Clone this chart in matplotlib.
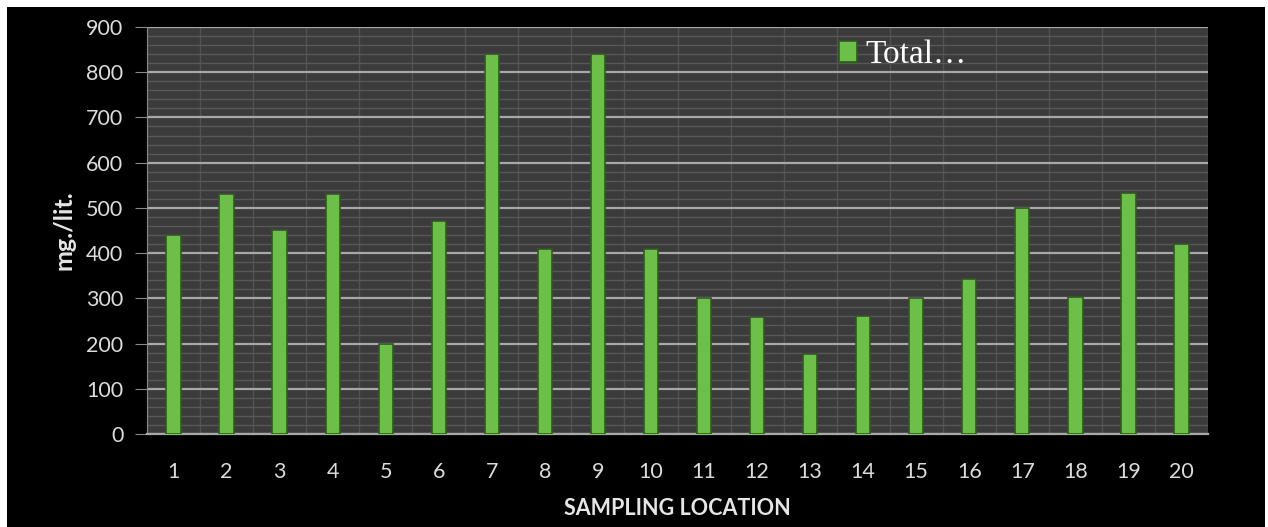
import numpy as np
import matplotlib
matplotlib.use('Agg')
import matplotlib.pyplot as plt
from matplotlib.patches import Rectangle
from matplotlib.ticker import MultipleLocator

locations = list(range(1, 21))
total = [440, 530, 450, 530, 200, 470, 840, 410, 840, 410,
         300, 258, 178, 262, 300, 342, 500, 302, 532, 420]
series_name = 'Total\u2026'
y_ticks = list(range(0, 901, 100))

W, H = 1268, 527
fig = plt.figure(figsize=(W / 100, H / 100), dpi=100, facecolor='white')

# black panel, leaving a thin white edge on the left, top and right
fig.patches.append(Rectangle((7 / W, 0), (1265 - 7) / W, 520 / H,
                             transform=fig.transFigure, facecolor='black',
                             edgecolor='none', zorder=-10))

ax = fig.add_axes([147 / W, 93 / H, (1208 - 147) / W, (434 - 27) / H])
ax.set_facecolor('#3b3b3b')

bars = ax.bar(locations, total, width=0.27, color='#6cc04a',
              edgecolor='#2f5a1c', linewidth=1.2, zorder=3, label=series_name)

ax.set_xlim(0.5, 20.5)
ax.set_ylim(0, 900)
ax.set_yticks(y_ticks)
ax.set_xticks(locations)
ax.yaxis.set_minor_locator(MultipleLocator(20))
ax.xaxis.set_minor_locator(MultipleLocator(0.5))

ax.grid(which='major', axis='y', color='#a8a8a8', linewidth=1.6, zorder=1)
ax.grid(which='minor', axis='y', color='#585858', linewidth=1.0, zorder=0)
ax.grid(which='minor', axis='x', color='#525252', linewidth=1.0, zorder=0)

for side in ['top', 'right']:
    ax.spines[side].set_visible(False)
ax.spines['left'].set_color('#8a8a8a')
ax.spines['bottom'].set_color('#a8a8a8')
ax.spines['bottom'].set_linewidth(1.6)

ax.tick_params(axis='y', which='major', length=9, color='#8a8a8a', pad=8)
ax.tick_params(axis='x', which='major', length=0, pad=20)
ax.tick_params(which='minor', length=0)
for lab in ax.get_yticklabels() + ax.get_xticklabels():
    lab.set_fontfamily('Lato')
    lab.set_fontsize(15.5)
    lab.set_color('#dcdcdc')

ax.set_xlabel('SAMPLING LOCATION', family='Lato', weight='bold', size=15.5,
              color='#e6e6e6', labelpad=12)
ax.set_ylabel('mg./lit.', family='Lato', weight='bold', size=18,
              color='#e6e6e6', labelpad=8)

leg = ax.legend(loc='center left', bbox_to_anchor=(0.652, 0.931), frameon=False,
                borderaxespad=0, borderpad=0,
                prop=dict(family='Liberation Serif', size=24),
                handlelength=0.55, handleheight=0.55, handletextpad=0.25)
for t in leg.get_texts():
    t.set_color('white')

fig.savefig('out.png', dpi=100, facecolor=fig.get_facecolor())
